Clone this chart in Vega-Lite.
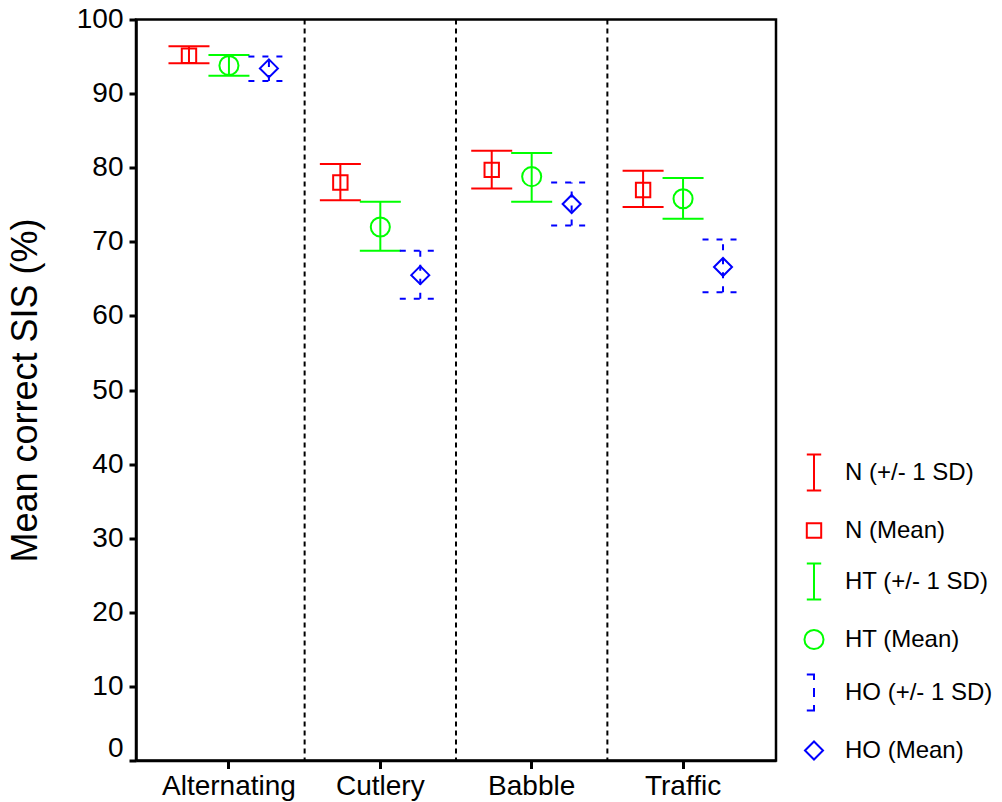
{
  "$schema": "https://vega.github.io/schema/vega-lite/v6.json",
  "width": 640,
  "height": 741,
  "autosize": {"type": "none"},
  "padding": {"left": 136, "top": 19.5, "right": 226, "bottom": 41.5},
  "background": "white",
  "config": {
    "view": {"stroke": "black", "strokeWidth": 2.5},
    "font": "Liberation Sans",
    "axis": {
      "domainColor": "black", "domainWidth": 2.5, "tickColor": "black", "tickWidth": 3,
      "labelColor": "black", "labelFont": "Liberation Sans", "labelFontSize": 28,
      "grid": false, "titleFont": "Liberation Sans", "titleColor": "black"
    }
  },
  "datasets": {
    "stats": [
      {"cond": "Alternating", "group": "N", "mean": 95.1, "lo": 94.1, "hi": 96.4},
      {"cond": "Alternating", "group": "HT", "mean": 93.8, "lo": 92.4, "hi": 95.2},
      {"cond": "Alternating", "group": "HO", "mean": 93.4, "lo": 91.7, "hi": 95.0},
      {"cond": "Cutlery", "group": "N", "mean": 78.0, "lo": 75.6, "hi": 80.5},
      {"cond": "Cutlery", "group": "HT", "mean": 72.0, "lo": 68.8, "hi": 75.4},
      {"cond": "Cutlery", "group": "HO", "mean": 65.5, "lo": 62.3, "hi": 68.8},
      {"cond": "Babble", "group": "N", "mean": 79.7, "lo": 77.2, "hi": 82.3},
      {"cond": "Babble", "group": "HT", "mean": 78.8, "lo": 75.4, "hi": 82.0},
      {"cond": "Babble", "group": "HO", "mean": 75.1, "lo": 72.2, "hi": 78.0},
      {"cond": "Traffic", "group": "N", "mean": 77.0, "lo": 74.7, "hi": 79.6},
      {"cond": "Traffic", "group": "HT", "mean": 75.8, "lo": 73.1, "hi": 78.6},
      {"cond": "Traffic", "group": "HO", "mean": 66.6, "lo": 63.2, "hi": 70.3}
    ],
    "separators": [{"cond": "Cutlery"}, {"cond": "Babble"}, {"cond": "Traffic"}],
    "legendEntries": [
      {"entry": "N (+/- 1 SD)"}, {"entry": "N (Mean)"},
      {"entry": "HT (+/- 1 SD)"}, {"entry": "HT (Mean)"},
      {"entry": "HO (+/- 1 SD)"}, {"entry": "HO (Mean)"}
    ]
  },
  "layer": [
    {
      "data": {"name": "separators"},
      "mark": {"type": "rule", "color": "black", "strokeWidth": 2, "strokeDash": [5, 4]},
      "encoding": {
        "x": {
          "field": "cond", "type": "nominal", "bandPosition": 0,
          "scale": {"domain": ["Alternating", "Cutlery", "Babble", "Traffic"], "paddingInner": 0, "paddingOuter": 0.114},
          "axis": {"title": null, "labelAngle": 0, "tickSize": 8, "labelPadding": 4}
        }
      }
    },
    {
      "data": {"name": "stats"},
      "mark": {"type": "rule", "strokeWidth": 2},
      "encoding": {
        "x": {"field": "cond", "type": "nominal"},
        "xOffset": {"field": "group", "type": "nominal", "scale": {"type": "point", "domain": ["N", "HT", "HO"], "padding": 0.894}},
        "y": {
          "field": "lo", "type": "quantitative",
          "scale": {"domain": [0, 100], "nice": false, "zero": false},
          "axis": {
            "title": "Mean correct SIS (%)", "titleFontSize": 36, "titleFontWeight": "normal", "titlePadding": 32,
            "values": [0, 10, 20, 30, 40, 50, 60, 70, 80, 90, 100],
            "tickSize": 7, "labelPadding": 6,
            "labelOffset": {"condition": {"test": "datum.value == 0", "value": -12}, "value": 0}
          }
        },
        "y2": {"field": "hi"},
        "stroke": {"field": "group", "type": "nominal", "scale": {"domain": ["N", "HT", "HO"], "range": ["#ff0000", "#00ff00", "#0000ff"]}, "legend": null},
        "strokeDash": {"field": "group", "type": "nominal", "scale": {"domain": ["N", "HT", "HO"], "range": [[1, 0], [1, 0], [6, 8]]}, "legend": null}
      }
    },
    {
      "data": {"name": "stats"},
      "mark": {"type": "point", "shape": "M-1,0H1", "size": 1681, "filled": false, "strokeWidth": 2, "opacity": 1},
      "encoding": {
        "x": {"field": "cond", "type": "nominal"},
        "xOffset": {"field": "group", "type": "nominal"},
        "y": {"field": "lo", "type": "quantitative"},
        "stroke": {"field": "group", "type": "nominal", "legend": null},
        "strokeDash": {"field": "group", "type": "nominal", "legend": null}
      }
    },
    {
      "data": {"name": "stats"},
      "mark": {"type": "point", "shape": "M-1,0H1", "size": 1681, "filled": false, "strokeWidth": 2, "opacity": 1},
      "encoding": {
        "x": {"field": "cond", "type": "nominal"},
        "xOffset": {"field": "group", "type": "nominal"},
        "y": {"field": "hi", "type": "quantitative"},
        "stroke": {"field": "group", "type": "nominal", "legend": null},
        "strokeDash": {"field": "group", "type": "nominal", "legend": null}
      }
    },
    {
      "data": {"name": "stats"},
      "transform": [{"filter": "datum.group == 'N'"}],
      "mark": {"type": "point", "shape": "M-0.4,-0.4H0.4V0.4H-0.4Z", "size": 1296, "filled": false, "strokeWidth": 2, "opacity": 1},
      "encoding": {
        "x": {"field": "cond", "type": "nominal"},
        "xOffset": {"field": "group", "type": "nominal"},
        "y": {"field": "mean", "type": "quantitative"},
        "stroke": {"field": "group", "type": "nominal", "legend": null}
      }
    },
    {
      "data": {"name": "stats"},
      "transform": [{"filter": "datum.group == 'HT'"}],
      "mark": {"type": "point", "shape": "M-0.53,0A0.53,0.53,0,1,1,0.53,0A0.53,0.53,0,1,1,-0.53,0Z", "size": 1296, "filled": false, "strokeWidth": 2, "opacity": 1},
      "encoding": {
        "x": {"field": "cond", "type": "nominal"},
        "xOffset": {"field": "group", "type": "nominal"},
        "y": {"field": "mean", "type": "quantitative"},
        "stroke": {"field": "group", "type": "nominal", "legend": null}
      }
    },
    {
      "data": {"name": "stats"},
      "transform": [{"filter": "datum.group == 'HO'"}],
      "mark": {"type": "point", "shape": "M-0.5,0L0,-0.5L0.5,0L0,0.5Z", "size": 1296, "filled": false, "strokeWidth": 2, "opacity": 1},
      "encoding": {
        "x": {"field": "cond", "type": "nominal"},
        "xOffset": {"field": "group", "type": "nominal"},
        "y": {"field": "mean", "type": "quantitative"},
        "stroke": {"field": "group", "type": "nominal", "legend": null}
      }
    },
    {
      "data": {"name": "legendEntries"},
      "mark": {"type": "point", "size": 1296, "filled": false, "strokeWidth": 2, "opacity": 0},
      "encoding": {
        "color": {"field": "entry", "type": "nominal",
          "scale": {"domain": ["N (+/- 1 SD)", "N (Mean)", "HT (+/- 1 SD)", "HT (Mean)", "HO (+/- 1 SD)", "HO (Mean)"],
            "range": ["#ff0000", "#ff0000", "#00ff00", "#00ff00", "#0000ff", "#0000ff"]},
          "legend": {
            "title": null, "orient": "none", "legendX": 659, "legendY": 434,
            "symbolSize": 1296, "symbolStrokeWidth": 2, "symbolOpacity": 1,
            "labelFont": "Liberation Sans", "labelFontSize": 24, "labelColor": "black",
            "labelOffset": 12, "rowPadding": 17, "labelLimit": 300
          }},
        "shape": {"field": "entry", "type": "nominal",
          "scale": {"domain": ["N (+/- 1 SD)", "N (Mean)", "HT (+/- 1 SD)", "HT (Mean)", "HO (+/- 1 SD)", "HO (Mean)"],
            "range": [
              "M-0.4,-1H0.4M0,-1V1M-0.4,1H0.4",
              "M-0.4,-0.4H0.4V0.4H-0.4Z",
              "M-0.4,-1H0.4M0,-1V1M-0.4,1H0.4",
              "M-0.53,0A0.53,0.53,0,1,1,0.53,0A0.53,0.53,0,1,1,-0.53,0Z",
              "M-0.4,-1H0V-0.7M0,-0.25V0.25M0,0.7V1H-0.4",
              "M-0.5,0L0,-0.5L0.5,0L0,0.5Z"
            ]}}
      }
    }
  ]
}
